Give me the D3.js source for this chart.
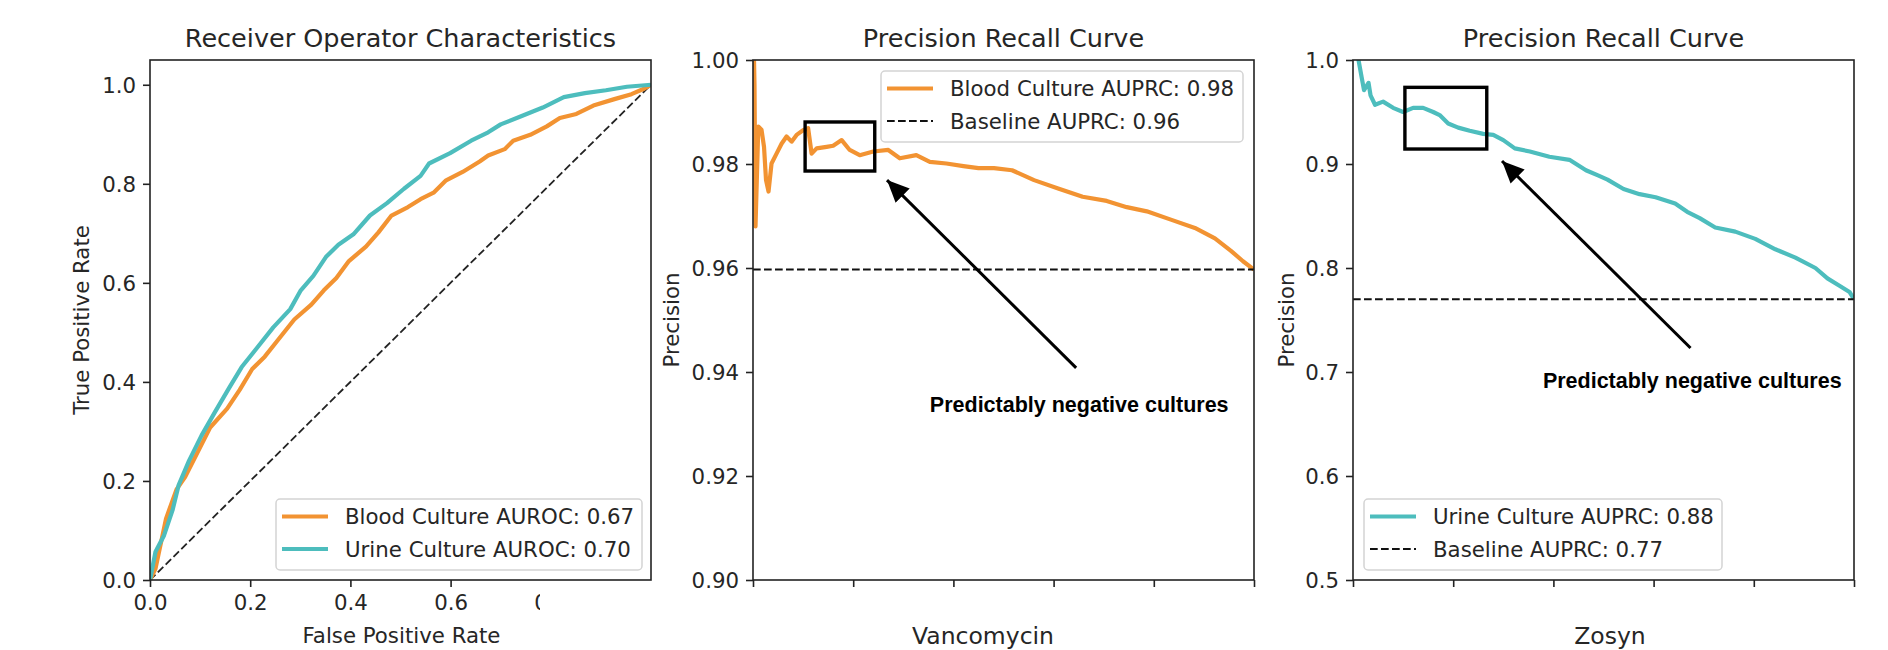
<!DOCTYPE html>
<html>
<head>
<meta charset="utf-8">
<script src="https://cdn.jsdelivr.net/npm/d3@7"></script>
<style>
  body { margin: 0; background: #fff; }
  svg text { font-family: "DejaVu Sans", sans-serif; fill: #262626; }
</style>
</head>
<body>
<svg id="chart" width="1888" height="650"></svg>
<script>
// ---- data ----
const rocBloodFpr = [0, 0.011, 0.032, 0.053, 0.07, 0.095, 0.12, 0.154, 0.179, 0.204, 0.229, 0.255, 0.288, 0.322, 0.347, 0.372, 0.397, 0.431, 0.456, 0.482, 0.515, 0.54, 0.566, 0.591, 0.624, 0.658, 0.675, 0.708, 0.725, 0.759, 0.792, 0.818, 0.851, 0.885, 0.927, 0.961, 0.986, 1.0];
const rocBloodTpr = [0, 0.023, 0.124, 0.183, 0.208, 0.258, 0.308, 0.346, 0.384, 0.426, 0.451, 0.484, 0.526, 0.556, 0.585, 0.61, 0.644, 0.673, 0.702, 0.736, 0.753, 0.769, 0.782, 0.807, 0.824, 0.845, 0.857, 0.87, 0.887, 0.899, 0.916, 0.933, 0.941, 0.958, 0.971, 0.981, 0.992, 1.0];

const rocUrineFpr = [0, 0.011, 0.028, 0.045, 0.057, 0.078, 0.103, 0.129, 0.158, 0.183, 0.213, 0.246, 0.28, 0.301, 0.326, 0.351, 0.376, 0.406, 0.439, 0.473, 0.507, 0.54, 0.557, 0.599, 0.641, 0.675, 0.7, 0.742, 0.784, 0.826, 0.868, 0.91, 0.952, 1.0];
const rocUrineTpr = [0, 0.057, 0.09, 0.141, 0.191, 0.241, 0.292, 0.338, 0.388, 0.43, 0.468, 0.51, 0.547, 0.585, 0.614, 0.652, 0.677, 0.698, 0.736, 0.761, 0.79, 0.816, 0.841, 0.862, 0.887, 0.904, 0.92, 0.937, 0.954, 0.975, 0.983, 0.989, 0.996, 1.0];

const prBloodRecall = [0.0, 0.003, 0.005, 0.0106, 0.017, 0.022, 0.026, 0.031, 0.037, 0.047, 0.057, 0.067, 0.077, 0.087, 0.1, 0.11, 0.117, 0.127, 0.147, 0.16, 0.177, 0.193, 0.213, 0.24, 0.27, 0.293, 0.326, 0.353, 0.386, 0.42, 0.45, 0.481, 0.517, 0.561, 0.609, 0.658, 0.706, 0.746, 0.786, 0.834, 0.882, 0.922, 0.954, 0.978, 1.0];
const prBloodPrecision = [1.01, 0.995, 0.968, 0.9872, 0.9866, 0.9833, 0.9769, 0.9747, 0.9801, 0.982, 0.9839, 0.9853, 0.9843, 0.9856, 0.9865, 0.9869, 0.982, 0.983, 0.9833, 0.9835, 0.9846, 0.9827, 0.9817, 0.9824, 0.9827, 0.9811, 0.9817, 0.9804, 0.9801, 0.9796, 0.9792, 0.9792, 0.9788, 0.9769, 0.9753, 0.9737, 0.9729, 0.9717, 0.9709, 0.9693, 0.9677, 0.9657, 0.9633, 0.9613, 0.9597];

const prUrineRecall = [0.008, 0.011, 0.017, 0.022, 0.031, 0.035, 0.044, 0.06, 0.08, 0.1, 0.12, 0.14, 0.16, 0.173, 0.19, 0.21, 0.233, 0.26, 0.28, 0.3, 0.323, 0.353, 0.392, 0.432, 0.465, 0.489, 0.508, 0.54, 0.572, 0.604, 0.643, 0.667, 0.692, 0.723, 0.763, 0.803, 0.843, 0.883, 0.923, 0.947, 0.971, 0.991, 1.0];
const prUrinePrecision = [1.01, 1.0, 0.984, 0.971, 0.978, 0.966, 0.957, 0.96, 0.954, 0.95, 0.954, 0.954, 0.95, 0.947, 0.939, 0.935, 0.932, 0.929, 0.928, 0.923, 0.915, 0.912, 0.907, 0.904, 0.894, 0.889, 0.885, 0.876, 0.871, 0.868, 0.862, 0.854, 0.848, 0.839, 0.835, 0.828, 0.818, 0.81, 0.8, 0.79, 0.783, 0.777, 0.77];

const baselineVanc = 0.9597;
const baselineZosyn = 0.77;

const rocTicks = [0, 0.2, 0.4, 0.6, 0.8, 1.0];
const vancTicks = [0.90, 0.92, 0.94, 0.96, 0.98, 1.00];
const zosynTicks = [0.5, 0.6, 0.7, 0.8, 0.9, 1.0];

const titles = ['Receiver Operator Characteristics', 'Precision Recall Curve', 'Precision Recall Curve'];
const legendRoc = ['Blood Culture AUROC: 0.67', 'Urine Culture AUROC: 0.70'];
const legendVanc = ['Blood Culture AUPRC: 0.98', 'Baseline AUPRC: 0.96'];
const legendZosyn = ['Urine Culture AUPRC: 0.88', 'Baseline AUPRC: 0.77'];
const drugNames = ['Vancomycin', 'Zosyn'];
const noteText = 'Predictably negative cultures';

// box [x0, x1, y0, y1], arrow [tailX, tailY, headX, headY], text [x, y] in data units
const noteVanc = { box: [0.104, 0.243, 0.97865, 0.98808], arrow: [0.645, 0.9408, 0.2675, 0.9769], text: [0.353, 0.9323] };
const noteZosyn = { box: [0.1036, 0.267, 0.9144, 0.9737], arrow: [0.6737, 0.7231, 0.2974, 0.9029], text: [0.379, 0.6846] };

const ORANGE = '#F29332';
const TEAL = '#4DBDBD';

// ---- layout ----
const svg = d3.select('#chart');
const panelTop = 60, panelW = 501, panelH = 520;
const lefts = [150, 753, 1353];
const fs = 21.3;

svg.append('defs').append('marker')
    .attr('id', 'head')
    .attr('markerUnits', 'userSpaceOnUse')
    .attr('markerWidth', 24).attr('markerHeight', 20)
    .attr('refX', 22).attr('refY', 10)
    .attr('orient', 'auto')
    .append('path')
    .attr('d', 'M0,0 L22,10 L0,20 Z')
    .attr('fill', '#000');

function makePanel(i, yDomain, yTicks, yFmt, showXLabels) {
    const g = svg.append('g').attr('transform', `translate(${lefts[i]},${panelTop})`);
    const x = d3.scaleLinear().domain([0, 1]).range([0, panelW]);
    const y = d3.scaleLinear().domain(yDomain).range([panelH, 0]);

    g.append('clipPath').attr('id', 'clip' + i)
        .append('rect').attr('width', panelW).attr('height', panelH);

    const yAxis = g.append('g')
        .call(d3.axisLeft(y).tickValues(yTicks).tickFormat(d3.format(yFmt)).tickSize(7).tickPadding(7));
    const xAxis = g.append('g').attr('transform', `translate(0,${panelH})`)
        .call(d3.axisBottom(x).tickValues(rocTicks)
            .tickFormat(showXLabels ? d3.format('.1f') : () => '')
            .tickSize(7).tickPadding(7));
    [xAxis, yAxis].forEach(a => {
        a.select('.domain').remove();
        a.selectAll('line').attr('stroke', '#222').attr('stroke-width', 1.6);
        a.selectAll('text').attr('font-size', fs).attr('fill', '#262626')
            .style('font-family', '"DejaVu Sans", sans-serif');
    });
    yAxis.selectAll('text').attr('dy', '0.36em');
    xAxis.selectAll('text').attr('dy', '0.76em');

    const plot = g.append('g').attr('clip-path', `url(#clip${i})`);

    g.append('text')
        .attr('x', panelW / 2).attr('y', -13)
        .attr('text-anchor', 'middle')
        .attr('font-size', 25.5)
        .text(titles[i]);

    return { g, plot, x, y, xAxis };
}

function drawCurve(p, xs, ys, color) {
    const line = d3.line().x(d => p.x(d[0])).y(d => p.y(d[1]));
    p.plot.append('path')
        .datum(d3.zip(xs, ys))
        .attr('d', line)
        .attr('fill', 'none')
        .attr('stroke', color)
        .attr('stroke-width', 4.2)
        .attr('stroke-linejoin', 'round');
}

function drawBaseline(p, v) {
    p.plot.append('line')
        .attr('x1', 0).attr('x2', panelW)
        .attr('y1', p.y(v)).attr('y2', p.y(v))
        .attr('stroke', '#111').attr('stroke-width', 2)
        .attr('stroke-dasharray', '7.7,3.3');
}

function drawFrame(p) {
    p.g.append('rect')
        .attr('width', panelW).attr('height', panelH)
        .attr('fill', 'none').attr('stroke', '#222').attr('stroke-width', 1.6);
}

function drawLegend(p, lx, ly, w, items) {
    const lg = p.g.append('g').attr('transform', `translate(${lx},${ly})`);
    lg.append('rect')
        .attr('width', w).attr('height', 71).attr('rx', 4)
        .attr('fill', '#fff').attr('fill-opacity', 0.8)
        .attr('stroke', '#d4d4d4').attr('stroke-width', 1.5);
    items.forEach((it, k) => {
        const yy = 17.5 + k * 32.5;
        lg.append('line')
            .attr('x1', 6).attr('x2', 52).attr('y1', yy).attr('y2', yy)
            .attr('stroke', it.color)
            .attr('stroke-width', it.dash ? 2 : 4.2)
            .attr('stroke-dasharray', it.dash ? '7.7,3.3' : null);
        lg.append('text')
            .attr('x', 69).attr('y', yy).attr('dy', '0.36em')
            .attr('font-size', fs)
            .text(it.label);
    });
}

function drawNote(p, note) {
    const [bx0, bx1, by0, by1] = note.box;
    p.g.append('rect')
        .attr('x', p.x(bx0)).attr('y', p.y(by1))
        .attr('width', p.x(bx1) - p.x(bx0)).attr('height', p.y(by0) - p.y(by1))
        .attr('fill', 'none').attr('stroke', '#000').attr('stroke-width', 3.4);
    const [tx, ty, hx, hy] = note.arrow;
    p.g.append('line')
        .attr('x1', p.x(tx)).attr('y1', p.y(ty))
        .attr('x2', p.x(hx)).attr('y2', p.y(hy))
        .attr('stroke', '#000').attr('stroke-width', 3)
        .attr('marker-end', 'url(#head)');
    p.g.append('text')
        .attr('x', p.x(note.text[0])).attr('y', p.y(note.text[1]))
        .attr('font-size', 21.5).attr('font-weight', 'bold')
        .style('font-family', '"Liberation Sans", Arial, sans-serif')
        .style('fill', '#000')
        .text(noteText);
}

function yLabel(p, dx, text) {
    p.g.append('text')
        .attr('transform', `translate(${dx},${panelH / 2}) rotate(-90)`)
        .attr('text-anchor', 'middle')
        .attr('font-size', fs)
        .text(text);
}

// ---- panel 1: ROC ----
const p1 = makePanel(0, [0, 1.05], rocTicks, '.1f', true);
p1.plot.append('line')
    .attr('x1', p1.x(0)).attr('y1', p1.y(0)).attr('x2', p1.x(1)).attr('y2', p1.y(1))
    .attr('stroke', '#222').attr('stroke-width', 1.8).attr('stroke-dasharray', '7.7,3.3');
drawCurve(p1, rocBloodFpr, rocBloodTpr, ORANGE);
drawCurve(p1, rocUrineFpr, rocUrineTpr, TEAL);
drawFrame(p1);
drawLegend(p1, 126, 439, 366, [
    { label: legendRoc[0], color: ORANGE },
    { label: legendRoc[1], color: TEAL }
]);
yLabel(p1, -61, 'True Positive Rate');
// the right part of the x tick labels is cut away in the reference
p1.g.append('clipPath').attr('id', 'xlabClip')
    .append('rect').attr('x', -40).attr('y', 0).attr('width', 430).attr('height', 60);
p1.xAxis.attr('clip-path', 'url(#xlabClip)');
p1.g.append('text')
    .attr('x', panelW / 2 + 1).attr('y', 643 - panelTop)
    .attr('text-anchor', 'middle').attr('font-size', fs)
    .text('False Positive Rate');

// ---- panel 2: Vancomycin PR ----
const p2 = makePanel(1, [0.90, 1.00], vancTicks, '.2f', false);
drawCurve(p2, prBloodRecall, prBloodPrecision, ORANGE);
drawBaseline(p2, baselineVanc);
drawFrame(p2);
drawLegend(p2, 128, 11, 362, [
    { label: legendVanc[0], color: ORANGE },
    { label: legendVanc[1], color: '#111', dash: true }
]);
yLabel(p2, -74, 'Precision');
drawNote(p2, noteVanc);

// ---- panel 3: Zosyn PR ----
const p3 = makePanel(2, [0.5, 1.0], zosynTicks, '.1f', false);
drawCurve(p3, prUrineRecall, prUrinePrecision, TEAL);
drawBaseline(p3, baselineZosyn);
drawFrame(p3);
drawLegend(p3, 11, 439, 358, [
    { label: legendZosyn[0], color: TEAL },
    { label: legendZosyn[1], color: '#111', dash: true }
]);
yLabel(p3, -59, 'Precision');
drawNote(p3, noteZosyn);

// drug names at the very bottom edge
svg.selectAll('text.drug')
    .data(drugNames)
    .join('text')
    .attr('class', 'drug')
    .attr('x', (d, i) => [983, 1610][i])
    .attr('y', 644)
    .attr('text-anchor', 'middle')
    .attr('font-size', 23.5)
    .text(d => d);
</script>
</body>
</html>
